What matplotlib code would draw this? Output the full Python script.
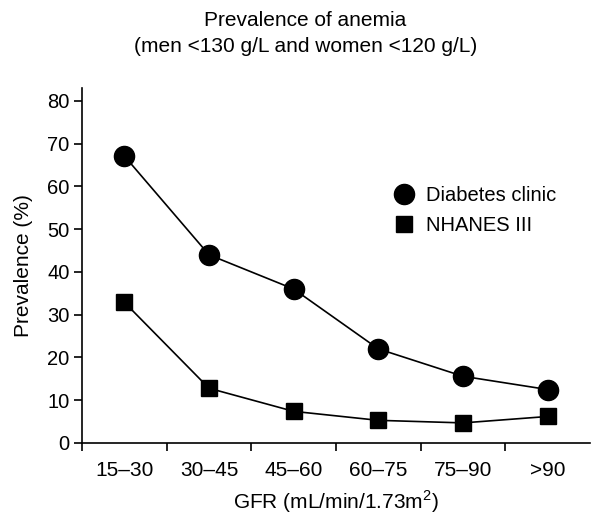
import matplotlib
matplotlib.use("Agg")
import matplotlib.pyplot as plt
import numpy as np

plt.rcParams['font.family'] = ['Liberation Sans', 'DejaVu Sans']

categories = ["15\u201330", "30\u201345", "45\u201360", "60\u201375", "75\u201390", ">90"]
diabetes_clinic = [67.1, 44.0, 36.0, 22.0, 15.6, 12.5]
nhanes_iii = [32.9, 12.8, 7.4, 5.3, 4.7, 6.2]
yticks = [0, 10, 20, 30, 40, 50, 60, 70, 80]

fig = plt.figure(figsize=(6.11, 5.16), dpi=100)
ax = fig.add_axes([82/611, (516-443)/516, 508/611, 355/516])

x = np.arange(len(categories))
ax.plot(x, diabetes_clinic, color='black', lw=1.2, marker='o', ms=14.5,
        label='Diabetes clinic')
ax.plot(x, nhanes_iii, color='black', lw=1.2, marker='s', ms=11,
        label='NHANES III')

ax.set_xlim(-0.5, 5.5)
ax.set_ylim(0, 83)
ax.set_yticks(yticks)
ax.set_xticks(x)
ax.set_xticklabels(categories)
ax.set_xticks(np.arange(-0.5, 5.0, 1.0), minor=True)
ax.tick_params(axis='x', which='major', length=0, pad=13, labelsize=15)
ax.tick_params(axis='x', which='minor', length=6, width=1.2, direction='out')
ax.tick_params(axis='y', length=6, width=1.2, direction='out', labelsize=14.5, pad=3)
for s in ['top', 'right']:
    ax.spines[s].set_visible(False)
for s in ['left', 'bottom']:
    ax.spines[s].set_linewidth(1.2)

ax.set_xlabel("GFR (mL/min/1.73m$^{\\mathregular{2}}$)", fontsize=15, labelpad=6)
ax.set_ylabel("Prevalence (%)", fontsize=15, labelpad=10)

fig.text(0.5, 1 - 21/516, "Prevalence of anemia", ha='center', va='center', fontsize=15)
fig.text(0.5, 1 - 46/516, "(men <130 g/L and women <120 g/L)", ha='center', va='center', fontsize=15)

leg = ax.legend(loc='upper left', bbox_to_anchor=(0.575, 0.775), frameon=False,
                fontsize=14.5, handlelength=1.2, handletextpad=0.5,
                labelspacing=0.55, numpoints=1)
for h in leg.legend_handles:
    h.set_linestyle('none')

fig.savefig("out.png", dpi=100)
